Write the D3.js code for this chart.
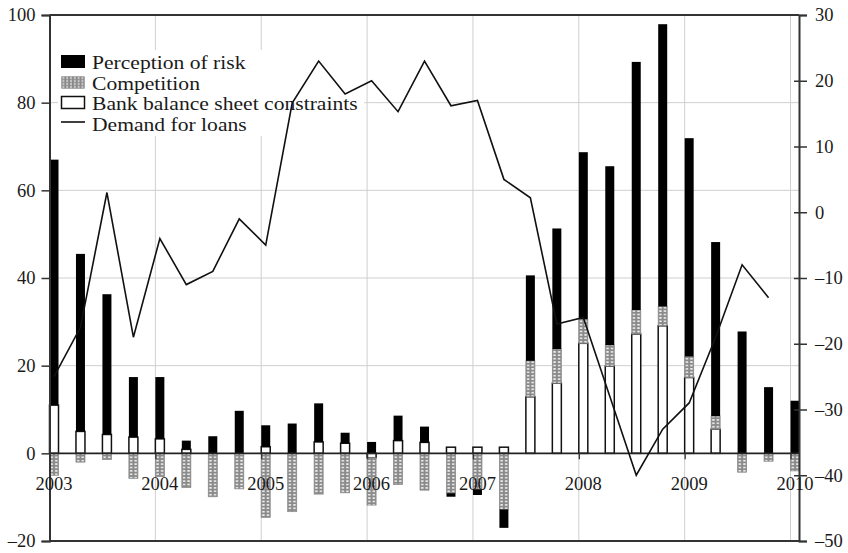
<!DOCTYPE html>
<html>
<head>
<meta charset="utf-8">
<script src="https://cdn.jsdelivr.net/npm/d3@7"></script>
<style>
  html, body { margin: 0; padding: 0; background: #fff; }
  svg { display: block; }
  text { font-family: "Liberation Serif", "Times New Roman", serif; fill: #1a1a1a; }
</style>
</head>
<body>
<svg id="chart" width="848" height="553"></svg>
<script>
// ---- data ----
const quarters = [
  "2003Q1","2003Q2","2003Q3","2003Q4","2004Q1","2004Q2","2004Q3","2004Q4",
  "2005Q1","2005Q2","2005Q3","2005Q4","2006Q1","2006Q2","2006Q3","2006Q4",
  "2007Q1","2007Q2","2007Q3","2007Q4","2008Q1","2008Q2","2008Q3","2008Q4",
  "2009Q1","2009Q2","2009Q3","2009Q4","2010Q1"
];
const balanceSheet = [11, 5, 4.3, 3.7, 3.3, 0.9, 0, 0, 1.5, 0, 2.6, 2.3, -1, 2.9, 2.5, 1.4,
  1.4, 1.4, 12.9, 16.0, 25.1, 19.9, 27.2, 29.1, 17.3, 5.5, 0, 0, 0];
const competition = [-5, -2, -1.4, -5.7, -5.3, -7.8, -9.9, -8.1, -14.6, -13.3, -9.3, -9.0, -10.8, -7.1, -8.4, -9.1,
  -8.2, -12.8, 8.2, 7.8, 5.5, 4.8, 5.5, 4.4, 4.8, 3.0, -4.3, -1.8, -4.0];
const riskPerception = [56, 40.5, 32, 13.7, 14.1, 2, 3.9, 9.7, 4.9, 6.8, 8.8, 2.4, 2.6, 5.7, 3.6, -0.8,
  -1.3, -4.2, 19.5, 27.5, 38.1, 40.8, 56.6, 64.4, 49.8, 39.7, 27.8, 15.1, 12.0];
const demandForLoans = [-25, -17.5, 3, -19, -4, -11, -9, -1, -5, 16.6, 23, 18, 20, 15.3, 23, 16.2,
  17, 5, 2.2, -17, -16, -28, -40, -33, -29, -19, -8, -13];
const yearLabels = ["2003","2004","2005","2006","2007","2008","2009","2010"];
const leftTicks = [-20, 0, 20, 40, 60, 80, 100];
const rightTicks = [-50, -40, -30, -20, -10, 0, 10, 20, 30];
const seriesNames = ["Perception of risk", "Competition", "Bank balance sheet constraints", "Demand for loans"];

// ---- layout ----
const svg = d3.select("#chart");
const L = 49.5, R = 799, T = 15, B = 541;
const toTime = q => +q.slice(0, 4) + (+q.slice(5) - 1) / 4;

const x = d3.scaleLinear().domain([2003, 2010.08]).range([L, R]);
const yL = d3.scaleLinear().domain([-20, 100]).range([B, T]);
const yR = d3.scaleLinear().domain([-50, 30]).range([B, T]);
const qW = x(2003.25) - x(2003);
const barW = qW * 0.34;

const rows = quarters.map((q, i) => ({
  q, t: toTime(q),
  balance: balanceSheet[i], competition: competition[i], risk: riskPerception[i]
}));
const stack = d3.stack().keys(["balance", "competition", "risk"]).offset(d3.stackOffsetDiverging);
const layers = stack(rows);

svg.append("rect").attr("width", 848).attr("height", 553).attr("fill", "#fff");

// patterns for competition
const defs = svg.append("defs");
rows.forEach((d, i) => {
  const p = defs.append("pattern").attr("id", "comp" + i)
    .attr("patternUnits", "userSpaceOnUse")
    .attr("x", x(d.t)).attr("y", 0)
    .attr("width", barW / 2).attr("height", 3.4);
  p.append("rect").attr("width", barW / 2).attr("height", 3.4).attr("fill", "#8a8a8a");
  p.append("rect").attr("x", 1.1).attr("y", 0.9).attr("width", barW / 2 - 2.2).attr("height", 1.6).attr("fill", "#f4f4f4");
});

// grid
const grid = svg.append("g");
grid.selectAll("line.h").data([20, 40, 60, 80]).join("line")
  .attr("x1", L).attr("x2", R).attr("y1", d => yL(d)).attr("y2", d => yL(d))
  .attr("stroke", "#cfcfcf").attr("stroke-width", 1);
grid.selectAll("line.v").data(yearLabels.slice(1).map(Number)).join("line")
  .attr("x1", d => x(d)).attr("x2", d => x(d)).attr("y1", T).attr("y2", B)
  .attr("stroke", "#cfcfcf").attr("stroke-width", 1);

// legend background
svg.append("rect").attr("x", 58).attr("y", 50).attr("width", 306).attr("height", 86).attr("fill", "#fff");

// bars
const fills = {balance: "#fff", competition: null, risk: "#000"};
layers.forEach(layer => {
  const key = layer.key;
  svg.append("g").selectAll("rect").data(layer).join("rect")
    .attr("x", d => x(d.data.t))
    .attr("width", barW)
    .attr("y", d => yL(Math.max(d[0], d[1])))
    .attr("height", d => Math.abs(yL(d[0]) - yL(d[1])))
    .attr("fill", (d, i) => key === "competition" ? `url(#comp${i})` : fills[key])
    .attr("stroke", key === "balance" ? "#111" : key === "competition" ? "#8a8a8a" : "none")
    .attr("stroke-width", key === "balance" ? 1.5 : 0.8)
    .attr("display", d => Math.abs(d[1] - d[0]) < 0.05 ? "none" : null);
});

// zero line
svg.append("line").attr("x1", L).attr("x2", R).attr("y1", yL(0)).attr("y2", yL(0))
  .attr("stroke", "#222").attr("stroke-width", 1.6);

// demand line
svg.append("path")
  .datum(demandForLoans.map((v, i) => ({t: rows[i].t, v})))
  .attr("fill", "none").attr("stroke", "#111").attr("stroke-width", 1.6)
  .attr("stroke-linejoin", "miter")
  .attr("d", d3.line().x(d => x(d.t) + barW / 2).y(d => yR(d.v)));

// frame
svg.append("line").attr("x1", L).attr("x2", R).attr("y1", T).attr("y2", T).attr("stroke", "#333").attr("stroke-width", 2);
svg.append("line").attr("x1", L).attr("x2", R).attr("y1", B).attr("y2", B).attr("stroke", "#333").attr("stroke-width", 2);

// axes
const fmt = d => d < 0 ? "\u2013" + Math.abs(d) : String(d);
const axL = svg.append("g").attr("transform", `translate(${L},0)`)
  .call(d3.axisLeft(yL).tickValues(leftTicks).tickSize(8).tickPadding(6).tickFormat(fmt));
const axR = svg.append("g").attr("transform", `translate(${R},0)`)
  .call(d3.axisRight(yR).tickValues(rightTicks).tickSize(8).tickPadding(8).tickFormat(fmt));
axR.selectAll(".tick line").attr("x1", -5);
[axL, axR].forEach(a => {
  a.select(".domain").attr("stroke", "#333").attr("stroke-width", 2);
  a.selectAll(".tick line").attr("stroke", "#333").attr("stroke-width", 1.5);
  a.selectAll(".tick text").style("font-family", '"Liberation Serif", serif').style("font-size", "18.5px").attr("fill", "#1a1a1a");
});
axR.selectAll(".tick line").filter(d => d === 30 || d === -50).attr("x1", 0);

// x axis ticks and labels
const axX = svg.append("g").attr("transform", `translate(0,${yL(0)})`)
  .call(d3.axisBottom(x).tickValues(yearLabels.slice(1).map(Number)).tickSize(6).tickFormat(""));
axX.select(".domain").remove();
axX.selectAll(".tick line").attr("stroke", "#333").attr("stroke-width", 1.3);
svg.append("g").selectAll("text").data(yearLabels).join("text")
  .attr("x", d => x(+d) + barW / 2)
  .attr("y", 490)
  .attr("text-anchor", "middle")
  .style("font-size", "18.5px")
  .text(d => d);

// legend
const lg = svg.append("g");
const rowsY = [69, 89.5, 110, 130.5];
lg.append("rect").attr("x", 61).attr("y", 55).attr("width", 24).attr("height", 13).attr("fill", "#000");
lg.append("rect").attr("x", 61.5).attr("y", 76.5).attr("width", 23).attr("height", 12).attr("fill", "#8a8a8a");
const lp = defs.append("pattern").attr("id", "legcomp").attr("patternUnits", "userSpaceOnUse")
  .attr("x", 61.5).attr("y", 76.5).attr("width", 3.8).attr("height", 3);
lp.append("rect").attr("width", 3.8).attr("height", 3).attr("fill", "#8a8a8a");
lp.append("rect").attr("x", 1).attr("y", 0.8).attr("width", 1.8).attr("height", 1.4).attr("fill", "#eee");
lg.append("rect").attr("x", 61.5).attr("y", 76.5).attr("width", 23).attr("height", 12).attr("fill", "url(#legcomp)");
lg.append("rect").attr("x", 61.5).attr("y", 96.5).attr("width", 23).attr("height", 12).attr("fill", "#fff").attr("stroke", "#111").attr("stroke-width", 1.5);
lg.append("line").attr("x1", 61).attr("x2", 85).attr("y1", 122).attr("y2", 122).attr("stroke", "#111").attr("stroke-width", 1.6);
lg.selectAll("text").data(seriesNames).join("text")
  .attr("transform", (d, i) => `translate(92,${rowsY[i]}) scale(1.2,1)`)
  .style("font-size", "18px")
  .text(d => d);
</script>
</body>
</html>
